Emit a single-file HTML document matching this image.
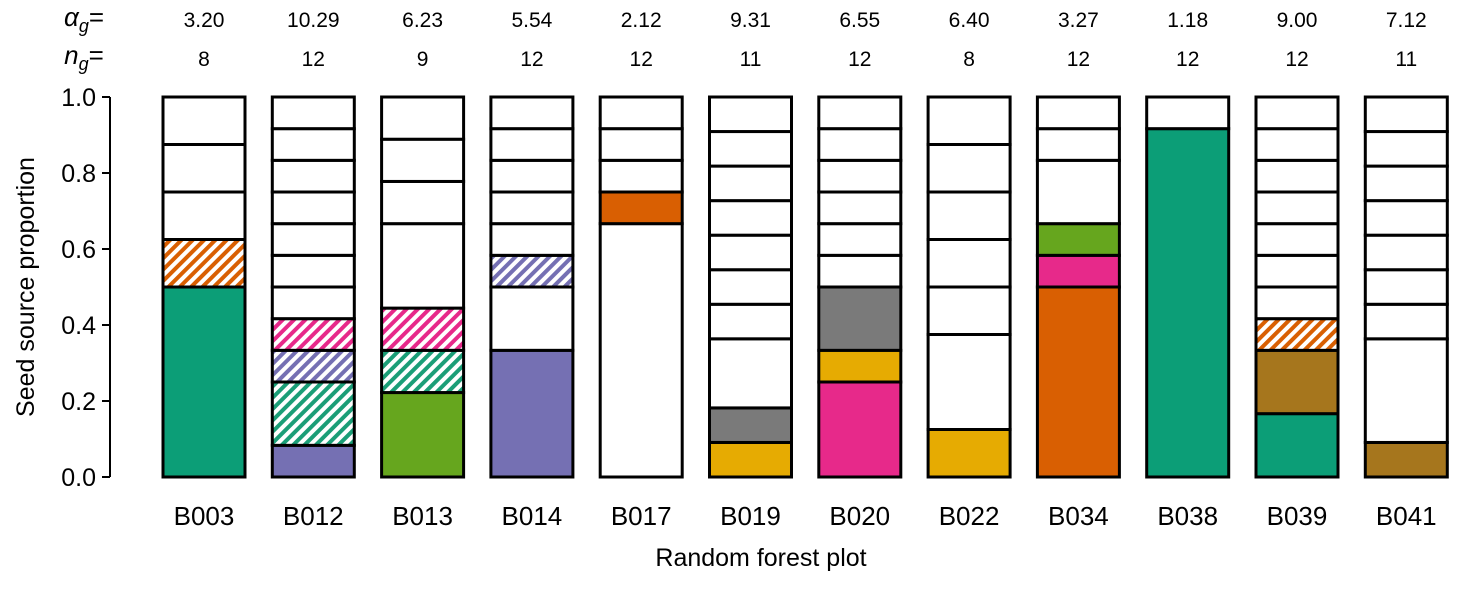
<!DOCTYPE html>
<html><head><meta charset="utf-8"><style>
body{margin:0;background:#fff}
svg text{font-family:"Liberation Sans",sans-serif;fill:#000}
</style></head><body>
<svg width="1474" height="586" viewBox="0 0 1474 586">
<defs>
<pattern id="h0" patternUnits="userSpaceOnUse" width="8" height="8" patternTransform="rotate(45)"><rect width="8" height="8" fill="#fff"/><rect width="4" height="8" fill="#1b9e77"/></pattern>
<pattern id="h1" patternUnits="userSpaceOnUse" width="8" height="8" patternTransform="rotate(45)"><rect width="8" height="8" fill="#fff"/><rect width="4" height="8" fill="#d95f02"/></pattern>
<pattern id="h2" patternUnits="userSpaceOnUse" width="8" height="8" patternTransform="rotate(45)"><rect width="8" height="8" fill="#fff"/><rect width="4" height="8" fill="#7570b3"/></pattern>
<pattern id="h3" patternUnits="userSpaceOnUse" width="8" height="8" patternTransform="rotate(45)"><rect width="8" height="8" fill="#fff"/><rect width="4" height="8" fill="#e7298a"/></pattern>
</defs>
<g id="plot"></g>
</svg>
<script>
const categories=["B003","B012","B013","B014","B017","B019","B020","B022","B034","B038","B039","B041"];
const alphaG=["3.20","10.29","6.23","5.54","2.12","9.31","6.55","6.40","3.27","1.18","9.00","7.12"];
const nG=[8,12,9,12,12,11,12,8,12,12,12,11];
// segments from bottom: [units of 1/n, colorKey]
const segments=[
 [[4,"T"],[1,"hO"],[1,"W"],[1,"W"],[1,"W"]],
 [[1,"P"],[2,"hT"],[1,"hP"],[1,"hK"],[1,"W"],[1,"W"],[1,"W"],[1,"W"],[1,"W"],[1,"W"],[1,"W"]],
 [[2,"G"],[1,"hT"],[1,"hK"],[2,"W"],[1,"W"],[1,"W"],[1,"W"]],
 [[4,"P"],[2,"W"],[1,"hP"],[1,"W"],[1,"W"],[1,"W"],[1,"W"],[1,"W"]],
 [[8,"W"],[1,"O"],[1,"W"],[1,"W"],[1,"W"]],
 [[1,"Y"],[1,"R"],[2,"W"],[1,"W"],[1,"W"],[1,"W"],[1,"W"],[1,"W"],[1,"W"],[1,"W"]],
 [[3,"K"],[1,"Y"],[2,"R"],[1,"W"],[1,"W"],[1,"W"],[1,"W"],[1,"W"],[1,"W"]],
 [[1,"Y"],[2,"W"],[1,"W"],[1,"W"],[1,"W"],[1,"W"],[1,"W"]],
 [[6,"O"],[1,"K"],[1,"G"],[2,"W"],[1,"W"],[1,"W"]],
 [[11,"T"],[1,"W"]],
 [[2,"T"],[2,"B"],[1,"hO"],[1,"W"],[1,"W"],[1,"W"],[1,"W"],[1,"W"],[1,"W"],[1,"W"]],
 [[1,"B"],[3,"W"],[1,"W"],[1,"W"],[1,"W"],[1,"W"],[1,"W"],[1,"W"],[1,"W"]]
];
const yTicks=["0.0","0.2","0.4","0.6","0.8","1.0"];
const colors={T:"#0c9e77",O:"#d95f02",P:"#7570b3",K:"#e7298a",G:"#66a61e",Y:"#e6ab02",B:"#a6761d",R:"#7a7a7a",W:"#fff",hT:"url(#h0)",hO:"url(#h1)",hP:"url(#h2)",hK:"url(#h3)"};
const NS="http://www.w3.org/2000/svg";
const g=document.getElementById("plot");
const y0=477,y1=97;
const yS=v=>y0-(y0-y1)*v;
const xS=i=>163+i*109.3;
const bw=82;
function mk(t,a,p){const e=document.createElementNS(NS,t);for(const k in a)e.setAttribute(k,a[k]);(p||g).appendChild(e);return e;}
const ax=mk("line",{x1:110,x2:110,y1:yS(0),y2:yS(1),stroke:"#000","stroke-width":2});


yTicks.forEach(t=>{const v=parseFloat(t);
 const l=mk("line",{x1:102,x2:110,y1:yS(v),y2:yS(v),stroke:"#000","stroke-width":2});
 
 
 const tx=mk("text",{x:96,y:yS(v)+9,"text-anchor":"end","font-size":25});tx.textContent=t;
 
 
});
const yt=mk("text",{x:0,y:0,"text-anchor":"middle","font-size":25,transform:"translate(34,287) rotate(-90)"});yt.textContent="Seed source proportion";


const xt=mk("text",{x:761,y:566,"text-anchor":"middle","font-size":25});xt.textContent="Random forest plot";


const ah=mk("text",{x:84,y:26,"font-size":26,"text-anchor":"middle","font-style":"italic"});ah.innerHTML='α<tspan font-size="18" dy="6">g</tspan><tspan dy="-6" font-style="normal">=</tspan>';


const nh=mk("text",{x:84,y:64,"font-size":26,"text-anchor":"middle","font-style":"italic"});nh.innerHTML='n<tspan font-size="18" dy="6">g</tspan><tspan dy="-6" font-style="normal">=</tspan>';


categories.forEach((c,i)=>{
 const x=xS(i),n=nG[i];
 const bg=mk("g",{});
 
 
 let acc=0;
 segments[i].forEach(s=>{
  const a=acc/n,b=(acc+s[0])/n;acc+=s[0];
  const r=mk("rect",{x:x,y:yS(b),width:bw,height:yS(a)-yS(b),fill:colors[s[1]],stroke:"#000","stroke-width":3},bg);
  
  
 });
 const lb=mk("text",{x:x+bw/2,y:525,"text-anchor":"middle","font-size":26});lb.textContent=c;
 
 
 const al=mk("text",{x:x+bw/2,y:27,"text-anchor":"middle","font-size":21});al.textContent=alphaG[i];
 
 
 const nl=mk("text",{x:x+bw/2,y:66,"text-anchor":"middle","font-size":21});nl.textContent=n;
 
 
});
</script>
</body></html>
